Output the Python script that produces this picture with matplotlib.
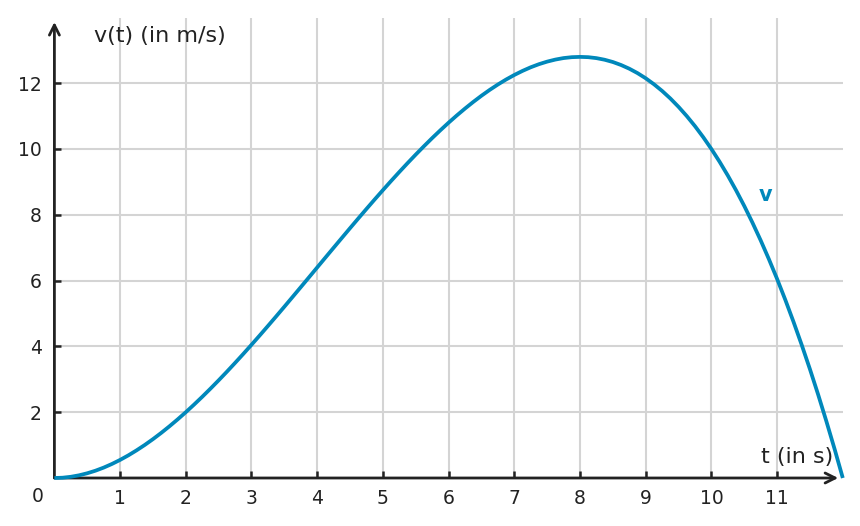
import matplotlib.pyplot as plt

plt.rcParams['font.family'] = ['DejaVu Sans']

# velocity curve values, every eighth of a second
t_vals = [0, 0.125, 0.25, 0.375, 0.5, 0.625, 0.75, 0.875, 1, 1.125, 1.25,
          1.375, 1.5, 1.625, 1.75, 1.875, 2, 2.125, 2.25, 2.375, 2.5, 2.625,
          2.75, 2.875, 3, 3.125, 3.25, 3.375, 3.5, 3.625, 3.75, 3.875, 4,
          4.125, 4.25, 4.375, 4.5, 4.625, 4.75, 4.875, 5, 5.125, 5.25, 5.375,
          5.5, 5.625, 5.75, 5.875, 6, 6.125, 6.25, 6.375, 6.5, 6.625, 6.75,
          6.875, 7, 7.125, 7.25, 7.375, 7.5, 7.625, 7.75, 7.875, 8, 8.125,
          8.25, 8.375, 8.5, 8.625, 8.75, 8.875, 9, 9.125, 9.25, 9.375, 9.5,
          9.625, 9.75, 9.875, 10, 10.125, 10.25, 10.375, 10.5, 10.625, 10.75,
          10.875, 11, 11.125, 11.25, 11.375, 11.5, 11.625, 11.75, 11.875, 12]
v_vals = [0, 0.009, 0.037, 0.082, 0.144, 0.222, 0.316, 0.426, 0.55, 0.688,
          0.84, 1.004, 1.181, 1.37, 1.57, 1.78, 2.0, 2.23, 2.468, 2.715, 2.969,
          3.23, 3.498, 3.771, 4.05, 4.333, 4.621, 4.912, 5.206, 5.503, 5.801,
          6.1, 6.4, 6.7, 6.999, 7.297, 7.594, 7.888, 8.179, 8.467, 8.75, 9.029,
          9.302, 9.57, 9.831, 10.085, 10.332, 10.57, 10.8, 11.02, 11.23, 11.43,
          11.619, 11.796, 11.96, 12.112, 12.25, 12.374, 12.484, 12.578, 12.656,
          12.718, 12.764, 12.791, 12.8, 12.791, 12.762, 12.713, 12.644, 12.553,
          12.441, 12.307, 12.15, 11.969, 11.765, 11.536, 11.281, 11.001, 10.695,
          10.361, 10.0, 9.611, 9.193, 8.746, 8.269, 7.761, 7.223, 6.652, 6.05,
          5.415, 4.746, 4.043, 3.306, 2.534, 1.724, 0.881, 0]

x_ticks = [1, 2, 3, 4, 5, 6, 7, 8, 9, 10, 11]
y_ticks = [2, 4, 6, 8, 10, 12]

line_color = '#0088bb'
text_color = '#222222'
grid_color = '#d4d4d4'

fig = plt.figure(figsize=(8.6, 5.26), dpi=100)
ax = fig.add_axes([54.4 / 860, 48 / 526, 788.4 / 860, 460 / 526])
ax.set_xlim(0, 12)
ax.set_ylim(0, 460 / 32.9)

for s in ax.spines.values():
    s.set_visible(False)

# grid
for x in x_ticks:
    ax.axvline(x, color=grid_color, lw=1.5, zorder=1)
for y in y_ticks:
    ax.axhline(y, color=grid_color, lw=1.5, zorder=1)

ax.set_xticks(x_ticks)
ax.set_yticks(y_ticks)
ax.tick_params(direction='in', length=5, width=1.8, color=text_color,
               labelsize=13.5, labelcolor=text_color, pad=9)
ax.tick_params(axis='x', pad=8)

# axes arrows
arrow = dict(arrowstyle='->', color=text_color, lw=2, mutation_scale=18,
             shrinkA=0, shrinkB=0)
ax.annotate('', xy=(11.93, 0), xytext=(0, 0), arrowprops=arrow,
            annotation_clip=False, zorder=3)
ax.annotate('', xy=(0, 13.86), xytext=(0, 0), arrowprops=arrow,
            annotation_clip=False, zorder=3)

ax.plot(t_vals, v_vals, color=line_color, lw=2.7, clip_on=False, zorder=4,
        solid_capstyle='butt', solid_joinstyle='round')

ax.text(-0.25, -0.55, '0', fontsize=13.5, color=text_color, ha='center', va='center')
ax.text(0.6, 13.43, 'v(t) (in m/s)', fontsize=16, color=text_color,
        ha='left', va='center')
ax.text(11.85, 0.64, 't (in s)', fontsize=16, color=text_color,
        ha='right', va='center')
ax.text(10.83, 8.6, 'v', fontsize=15, fontweight='bold', color=line_color,
        ha='center', va='center')

fig.savefig('out.png', dpi=100)
